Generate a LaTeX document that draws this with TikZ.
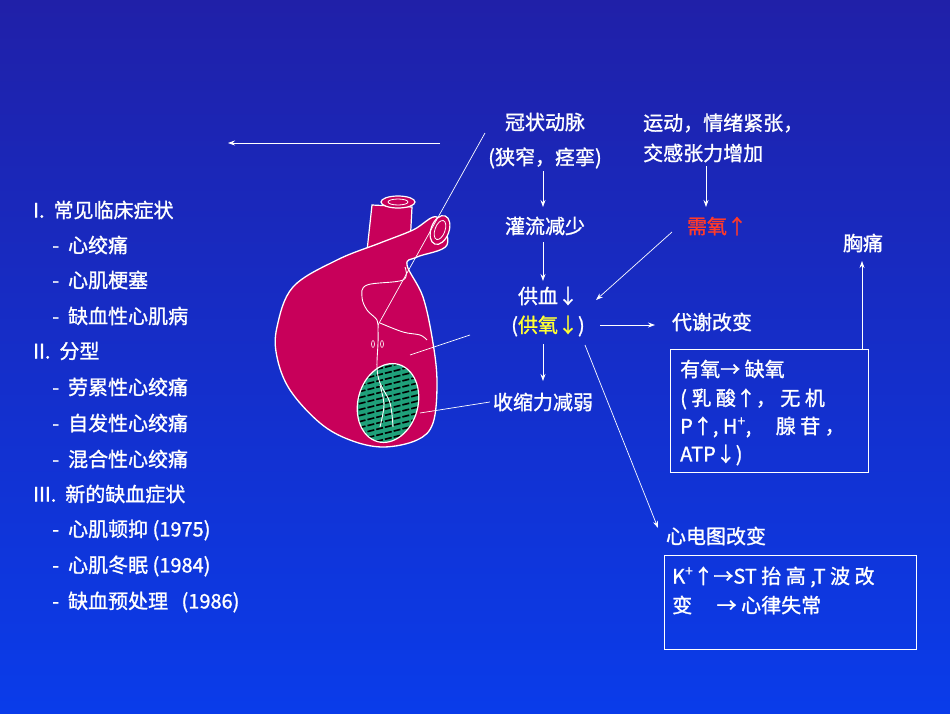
\documentclass[tikz,border=0pt]{standalone}
\usepackage{fontspec}
\setmainfont{Noto Sans CJK SC}[FakeBold=1.2]
\usetikzlibrary{arrows.meta}
\definecolor{bgA}{HTML}{2020A8}
\definecolor{bgB}{HTML}{0A3CEA}
\definecolor{heart}{HTML}{C8005A}
\definecolor{patch}{HTML}{1FA07A}
\definecolor{req}{HTML}{FF3A2A}
\definecolor{yel}{HTML}{FFFF33}
\tikzset{
 txt/.style={text=white,font=\fontsize{20}{24}\selectfont,inner sep=0pt},
 lt/.style={txt,anchor=west},
 arr/.style={draw=white,line width=0.7pt,-{Stealth[length=7pt,width=5pt]}},
 ln/.style={draw=white,line width=0.7pt},
 box/.style={draw=white,line width=0.8pt}
}
\begin{document}
\begin{tikzpicture}[x=1pt,y=-1pt]
\shade[left color=bgA,right color=bgB,shading angle=0] (0,0) rectangle (950,713);
\shade[top color=bgA,bottom color=bgB,opacity=0.5] (0,0) rectangle (950,713);
\useasboundingbox (0,0) rectangle (950,713);
% heart: aorta
\draw[white,line width=1.2pt,fill=heart] (366,260) -- (372,205) -- (412,207) -- (410,245) -- cycle;
\draw[white,line width=1.2pt,fill=heart] (398,202) ellipse (17 and 6);
\draw[white,line width=0.8pt] (398,202) ellipse (10 and 3);
\draw[white,line width=1.3pt,fill=heart] plot[smooth cycle,tension=0.6] coordinates{(277,327)(293,287)(337,260)(380,243)(413,230)(437,217)(447,245)(417,257)(407,265)(423,297)(433,343)(437,383)(433,423)(417,440)(383,447)(350,440)(320,423)(290,390)(277,357)};
\draw[white,line width=1.2pt,fill=heart,rotate around={-20:(440,230)}] (440,230) ellipse (9 and 15);
\draw[white,line width=0.8pt,rotate around={-20:(440,230)}] (440,230) ellipse (5 and 10);
\begin{scope}
\clip[rotate around={-15:(388,403)}] (388,403) ellipse (30 and 40);
\fill[patch] (350,360) rectangle (430,450);
\foreach \i in {0,...,14} \draw[black,line width=1.6pt,dash pattern=on 7pt off 2pt] (350,370+\i*6) -- (430,350+\i*6);
\end{scope}
\draw[white,line width=1.2pt,rotate around={-15:(388,403)}] (388,403) ellipse (30 and 40);
\draw[white,line width=0.9pt] plot[smooth,tension=0.6] coordinates{(405,267)(403,280)(367,285)(362,297)(367,310)(377,320)(378,330)(378,343)(377,367)(380,383)(390,403)(393,427)};
\draw[white,line width=0.9pt] plot[smooth,tension=0.6] coordinates{(380,323)(403,332)(420,335)(427,340)};
\draw[white,line width=0.9pt] plot[smooth] coordinates{(380,385)(384,405)(380,427)};
\draw[white,line width=0.6pt] (373,344) ellipse (1.5 and 3.5) (382,344) ellipse (1.5 and 3.5);
% nodes
\node[txt] (gz) at (545,122) {冠状动脉};
\node[txt] (xz) at (545,158) {(狭窄，痉挛)};
\node[txt,anchor=west] (yd) at (643,123) {运动，情绪紧张，};
\node[txt,anchor=west] (jg) at (643,153) {交感张力增加};
\node[txt] (gl) at (545,226) {灌流减少};
\node[txt,text=req] (xy) at (717,226) {需氧↑};
\node[txt] (gx) at (548,296) {供血↓};
\node[txt] (gy) at (548,326) {(\textcolor{yel}{供氧↓})};
\node[txt] (ss) at (543,402) {收缩力减弱};
\node[txt] (xt) at (863,243) {胸痛};
\node[txt] (dx) at (712,322) {代谢改变};
\node[txt] (xd) at (716,536) {心电图改变};
\node[box,minimum width=198,minimum height=123,anchor=north west] (b1) at (670,349) {};
\node[box,minimum width=252,minimum height=94,anchor=north west] (b2) at (664,555) {};
\node[lt] at (680,369) {有氧→ 缺氧};
\node[lt] at (680,399) {( 乳 酸↑， 无 机};
\node[lt] at (680,427) {P↑, H\textsuperscript{+}, \quad 腺 苷 ，};
\node[lt] at (680,455) {ATP↓)};
\node[lt] at (672,577) {K\textsuperscript{+}↑→ST 抬 高 ,T 波 改};
\node[lt] at (672,605) {变 \quad → 心律失常};
% left list
\foreach \y/\t in {210/I.\ \ 常见临床症状,351/II.\ \ 分型,494/III.\ \ 新的缺血症状}
  \node[lt] at (33,\y) {\t};
\foreach \y/\t in {245/心绞痛,280/心肌梗塞,316/缺血性心肌病,387/劳累性心绞痛,423/自发性心绞痛,459/混合性心绞痛,530/心肌顿抑 (1975),566/心肌冬眠 (1984),602/缺血预处理\ \ \ (1986)}
  \node[lt] at (52,\y) {-\ \ \t};
% connectors
\coordinate (la) at (440,143); \coordinate (lb) at (228,143);
\draw[arr] (la) -- (lb);
\coordinate (a1) at (543,171); \coordinate (a2) at (543,207);
\coordinate (a3) at (543,242); \coordinate (a4) at (543,281);
\coordinate (a5) at (543,344); \coordinate (a6) at (543,381);
\coordinate (a7) at (706,166); \coordinate (a8) at (706,207);
\coordinate (a9) at (672,232); \coordinate (a10) at (596,300);
\coordinate (a11) at (600,325); \coordinate (a12) at (655,325);
\coordinate (a13) at (862,350); \coordinate (a14) at (862,261);
\coordinate (a15) at (585,345); \coordinate (a16) at (658,528);
\draw[arr] (a1) -- (a2);
\draw[arr] (a3) -- (a4);
\draw[arr] (a5) -- (a6);
\draw[arr] (a7) -- (a8);
\draw[arr] (a9) -- (a10);
\draw[arr] (a11) -- (a12);
\draw[arr] (a13) -- (a14);
\draw[arr] (a15) -- (a16);
\coordinate (h1) at (378,325); \coordinate (h2) at (485,133);
\draw[ln] (h1) -- (h2);
\coordinate (h3) at (410,355); \coordinate (h4) at (470,335);
\draw[ln] (h3) -- (h4);
\coordinate (h5) at (420,413);
\draw[ln] (h5) -- ([xshift=-3pt]ss.west);
\end{tikzpicture}
\end{document}
